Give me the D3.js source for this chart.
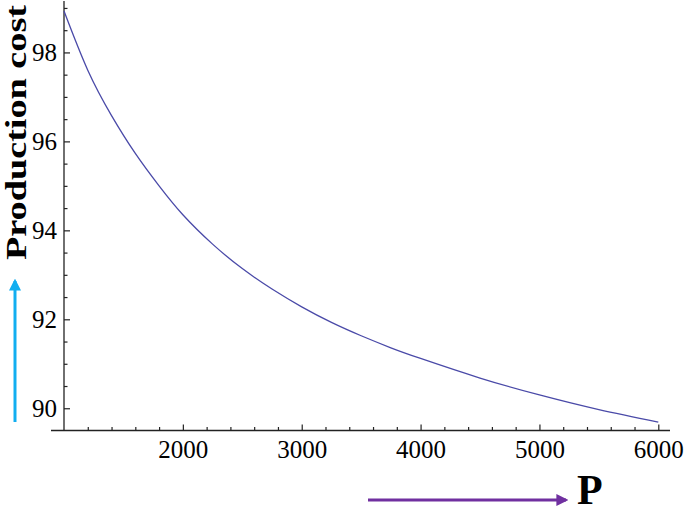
<!DOCTYPE html>
<html>
<head>
<meta charset="utf-8">
<script src="https://cdn.jsdelivr.net/npm/d3@7"></script>
<style>
  html, body { margin: 0; padding: 0; background: #fff; }
  svg { display: block; }
  .tick text { font-family: "Liberation Serif", "DejaVu Serif", serif; font-size: 25px; fill: #000; }
  .tick line { stroke: #222; stroke-width: 1.2; }
</style>
</head>
<body>
<svg id="chart" width="685" height="513"></svg>
<script>
// values: production cost vs P
const pValues    = [1000, 1200, 1400, 1600, 1800, 2000, 2250, 2500, 2750, 3000, 3250, 3500, 3750, 4000, 4500, 5000, 5500, 6000];
const costValues = [98.93, 97.60, 96.58, 95.73, 95.00, 94.35, 93.69, 93.14, 92.68, 92.28, 91.93, 91.63, 91.36, 91.12, 90.68, 90.30, 89.97, 89.69];

const xMajor = [2000, 3000, 4000, 5000, 6000];
const xMinor = [1200, 1400, 1600, 1800, 2200, 2400, 2600, 2800, 3200, 3400, 3600, 3800,
                4200, 4400, 4600, 4800, 5200, 5400, 5600, 5800];
const yMajor = [90, 92, 94, 96, 98];
const yMinor = [90.5, 91, 91.5, 92.5, 93, 93.5, 94.5, 95, 95.5, 96.5, 97, 97.5, 98.5, 99];

const svg = d3.select("#chart");

const x = d3.scaleLinear().domain([1000, 6000]).range([64, 658.3]);
const y = d3.scaleLinear().domain([89.5, 99.1]).range([430.5, 3.5]);

const axisColor = "#222";

// axis lines (Mathematica style, x axis padded a bit on both ends)
svg.append("line")
  .attr("x1", 51).attr("x2", 670)
  .attr("y1", y(89.5)).attr("y2", y(89.5))
  .attr("stroke", axisColor).attr("stroke-width", 1.3);
svg.append("line")
  .attr("x1", x(1000)).attr("x2", x(1000))
  .attr("y1", 1).attr("y2", y(89.5))
  .attr("stroke", axisColor).attr("stroke-width", 1.3);

// x axis ticks point inward (up)
const gx = svg.append("g").attr("transform", `translate(0,${y(89.5)})`);
gx.call(d3.axisBottom(x).tickValues(xMajor).tickSize(-6).tickPadding(10).tickFormat(d3.format("d")));
gx.append("g").call(d3.axisBottom(x).tickValues(xMinor).tickSize(-3.5).tickFormat(""));
gx.selectAll(".domain").remove();

// y axis ticks point inward (right)
const gy = svg.append("g").attr("transform", `translate(${x(1000)},0)`);
gy.call(d3.axisLeft(y).tickValues(yMajor).tickSize(-6).tickPadding(7).tickFormat(d3.format("d")));
gy.append("g").call(d3.axisLeft(y).tickValues(yMinor).tickSize(-3.5).tickFormat(""));
gy.selectAll(".domain").remove();

// the curve
const line = d3.line()
  .x((d, i) => x(pValues[i]))
  .y(d => y(d))
  .curve(d3.curveNatural);

svg.append("path")
  .datum(costValues)
  .attr("d", line)
  .attr("fill", "none")
  .attr("stroke", "#4a4aa8")
  .attr("stroke-width", 1.3);

// arrows
const defs = svg.append("defs");
function arrowHead(id, color) {
  defs.append("marker")
    .attr("id", id)
    .attr("viewBox", "0 -5 10 10")
    .attr("refX", 8).attr("refY", 0)
    .attr("markerWidth", 4).attr("markerHeight", 4)
    .attr("orient", "auto")
    .append("path")
    .attr("d", "M0,-5L10,0L0,5Z")
    .attr("fill", color);
}
arrowHead("arrow-blue", "#12aef0");
arrowHead("arrow-purple", "#7030a0");

svg.append("line")
  .attr("x1", 15).attr("y1", 422)
  .attr("x2", 15).attr("y2", 281)
  .attr("stroke", "#12aef0").attr("stroke-width", 3)
  .attr("marker-end", "url(#arrow-blue)");

svg.append("line")
  .attr("x1", 368).attr("y1", 500)
  .attr("x2", 566).attr("y2", 500)
  .attr("stroke", "#7030a0").attr("stroke-width", 3)
  .attr("marker-end", "url(#arrow-purple)");

// axis titles
svg.append("text")
  .attr("transform", "translate(26,260) rotate(-90)")
  .attr("font-family", "Liberation Serif, serif")
  .attr("font-weight", "bold")
  .attr("font-size", 30)
  .attr("textLength", 255)
  .attr("lengthAdjust", "spacingAndGlyphs")
  .text("Production cost");

svg.append("text")
  .attr("x", 577).attr("y", 504)
  .attr("font-family", "Liberation Serif, serif")
  .attr("font-weight", "bold")
  .attr("font-size", 42)
  .text("P");
</script>
</body>
</html>
